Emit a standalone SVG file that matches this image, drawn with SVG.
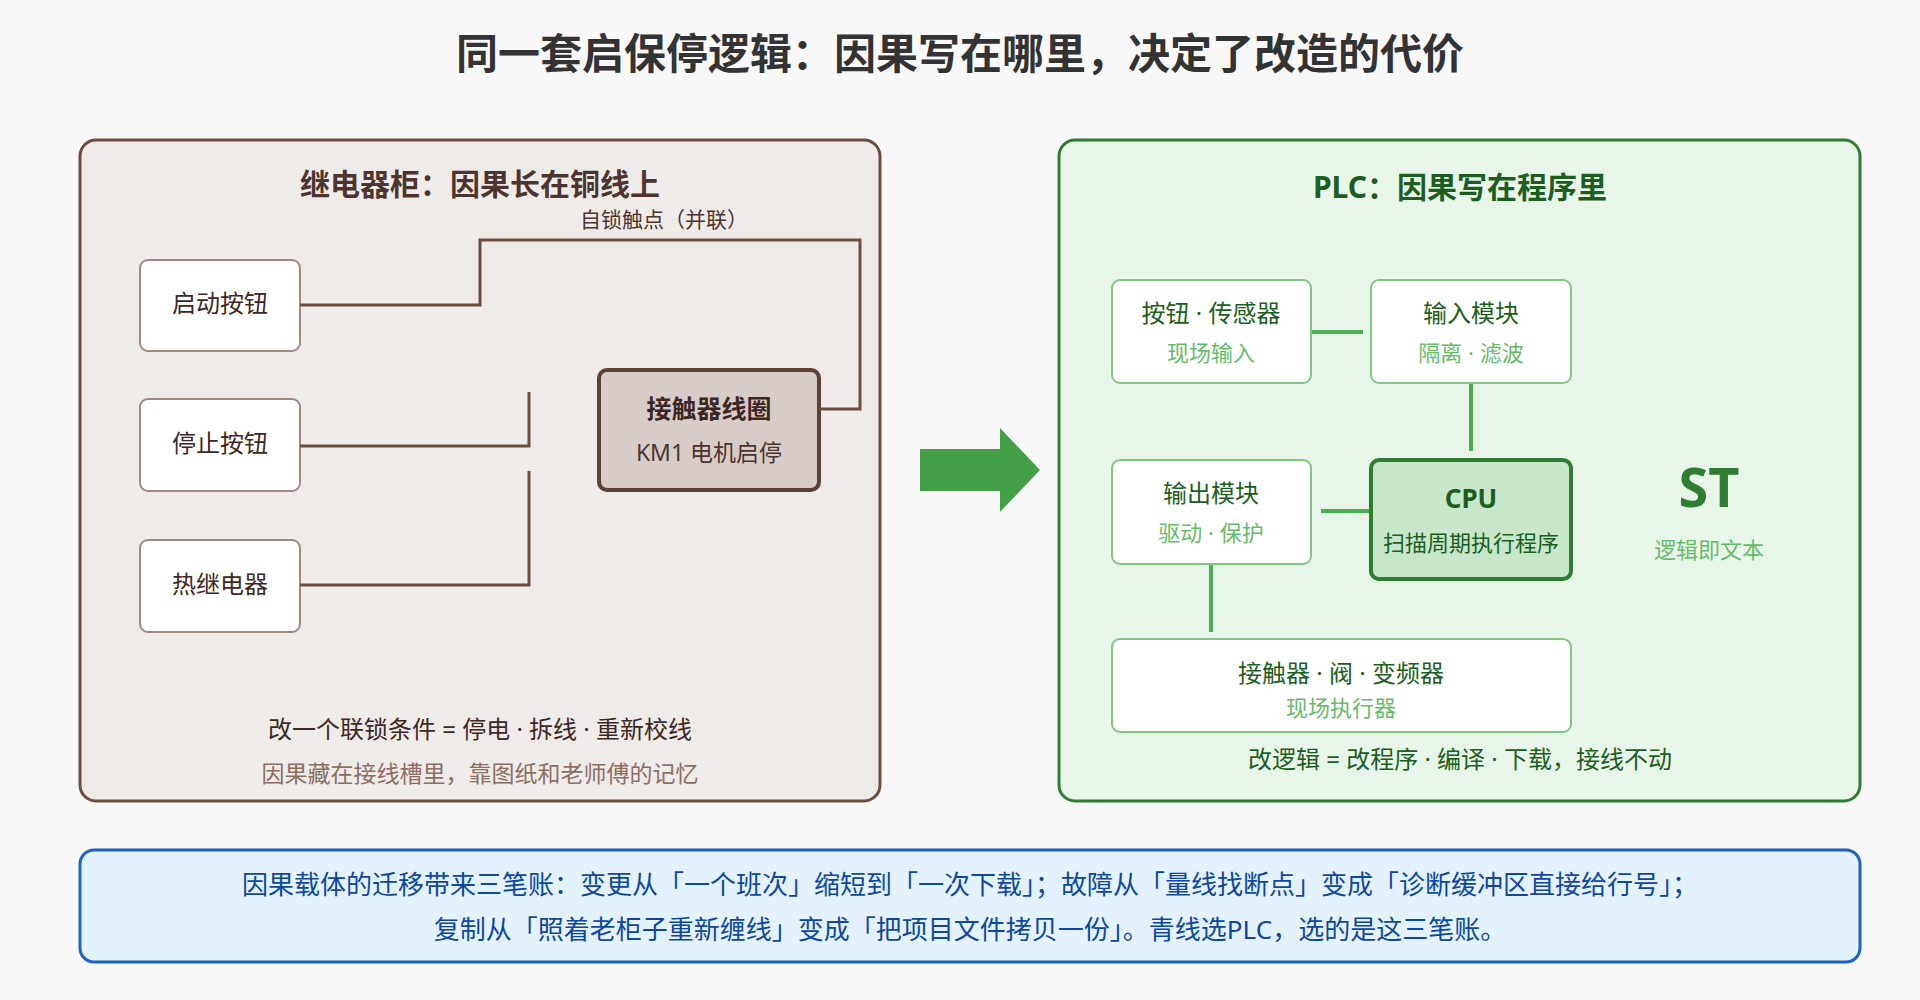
<svg xmlns="http://www.w3.org/2000/svg" width="1920" height="1000" viewBox="0 0 1920 1000">
<style>
text{font-family:"Noto Sans","Noto Sans CJK SC",sans-serif;text-anchor:middle;dominant-baseline:middle}
.t{font-size:42px;font-weight:bold;fill:#333}
.pt{font-size:30px;font-weight:bold}
.bx{fill:#fff;stroke:#a1887f;stroke-width:2}
.gx{fill:#fff;stroke:#81c784;stroke-width:2}
.m{font-size:24px;fill:#3e2723}
.g1{font-size:24px;fill:#1b5e20}
.g2{font-size:22px;fill:#66bb6a}
.w{fill:none;stroke:#6d4c41;stroke-width:3}
.gl{fill:none;stroke:#4caf50;stroke-width:4}
</style>
<rect width="1920" height="1000" fill="#f8f8f8"/>
<text class="t" x="960" y="58">同一套启保停逻辑：因果写在哪里，决定了改造的代价</text>
<g id="left-panel">
<rect x="80" y="140" width="800" height="661" rx="16" fill="#efebe9" stroke="#6d4c41" stroke-width="3"/>
<text class="pt" x="480" y="187" fill="#4e342e">继电器柜：因果长在铜线上</text>
<text x="480" y="732" font-size="24" fill="#3e2723">改一个联锁条件 = 停电 · 拆线 · 重新校线</text>
<text x="480" y="776" font-size="23" fill="#8d6e63">因果藏在接线槽里，靠图纸和老师傅的记忆</text>
</g>
<g id="start"><rect class="bx" x="140" y="260" width="160" height="91" rx="8"/><text class="m" x="220" y="306">启动按钮</text></g>
<g id="stop"><rect class="bx" x="140" y="399" width="160" height="92" rx="8"/><text class="m" x="220" y="446">停止按钮</text></g>
<g id="thermal"><rect class="bx" x="140" y="540" width="160" height="92" rx="8"/><text class="m" x="220" y="587">热继电器</text></g>
<g id="coil"><rect x="599" y="370" width="220" height="120" rx="8" fill="#d7ccc8" stroke="#5d4037" stroke-width="4"/><text x="709" y="411" font-size="25" font-weight="bold" fill="#3e2723">接触器线圈</text><text x="709" y="455" font-size="23" fill="#4e342e">KM1 电机启停</text></g>
<g id="relay-wires">
<polyline class="w" points="300,305 480,305 480,240 860,240 860,409 819,409"/>
<polyline class="w" points="300,446 529,446 529,392"/>
<polyline class="w" points="300,585 529,585 529,471"/>
<text x="664" y="221" font-size="21" fill="#4e342e">自锁触点（并联）</text>
</g>
<g id="arrow"><polygon points="920,449 1000,449 1000,428 1040,470 1000,512 1000,491 920,491" fill="#43a047"/></g>
<g id="right-panel">
<rect x="1059" y="140" width="801" height="661" rx="16" fill="#e8f5e9" stroke="#2e7d32" stroke-width="3"/>
<text class="pt" x="1460" y="190" fill="#1b5e20">PLC：因果写在程序里</text>
<text x="1709" y="492" font-size="54" font-weight="bold" fill="#2e7d32">ST</text>
<text x="1709" y="552" font-size="22" fill="#66bb6a">逻辑即文本</text>
<text x="1460" y="762" font-size="24" fill="#1b5e20">改逻辑 = 改程序 · 编译 · 下载，接线不动</text>
</g>
<g id="plc-wires">
<line class="gl" x1="1311" y1="332" x2="1363" y2="332"/>
<line class="gl" x1="1471" y1="383" x2="1471" y2="451"/>
<line class="gl" x1="1321" y1="511" x2="1371" y2="511"/>
<line class="gl" x1="1211" y1="564" x2="1211" y2="632"/>
</g>
<g id="sensors"><rect class="gx" x="1112" y="280" width="199" height="103" rx="8"/><text class="g1" x="1211" y="316">按钮 · 传感器</text><text class="g2" x="1211" y="355">现场输入</text></g>
<g id="input"><rect class="gx" x="1371" y="280" width="200" height="103" rx="8"/><text class="g1" x="1471" y="316">输入模块</text><text class="g2" x="1471" y="355">隔离 · 滤波</text></g>
<g id="output"><rect class="gx" x="1112" y="460" width="199" height="104" rx="8"/><text class="g1" x="1211" y="496">输出模块</text><text class="g2" x="1211" y="535">驱动 · 保护</text></g>
<g id="cpu"><rect x="1371" y="460" width="200" height="119" rx="8" fill="#c8e6c9" stroke="#2e7d32" stroke-width="4"/><text x="1471" y="501" font-size="26" font-weight="bold" fill="#1b5e20">CPU</text><text x="1471" y="545" font-size="22" fill="#1b5e20">扫描周期执行程序</text></g>
<g id="actuators"><rect class="gx" x="1112" y="639" width="459" height="93" rx="8"/><text class="g1" x="1341" y="676">接触器 · 阀 · 变频器</text><text class="g2" x="1341" y="710">现场执行器</text></g>
<g id="summary">
<rect x="80" y="850" width="1780" height="112" rx="14" fill="#e3f2fd" stroke="#1e63c0" stroke-width="3"/>
<text x="970" y="887" font-size="26" fill="#0d47a1">因果载体的迁移带来三笔账：变更从「一个班次」缩短到「一次下载」；故障从「量线找断点」变成「诊断缓冲区直接给行号」；</text>
<text x="970" y="932" font-size="26" fill="#0d47a1">复制从「照着老柜子重新缠线」变成「把项目文件拷贝一份」。青线选PLC，选的是这三笔账。</text>
</g>
</svg>
